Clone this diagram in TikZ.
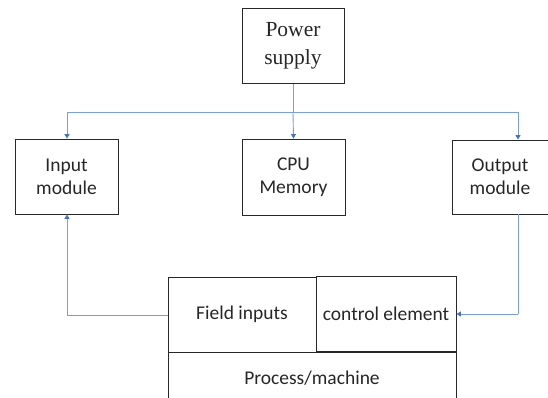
\documentclass[tikz,border=0pt]{standalone}
\usepackage{fontspec}
\setmainfont{Carlito}
\newfontfamily\serifpower{Liberation Serif}
\usetikzlibrary{arrows.meta}
\definecolor{linkblue}{RGB}{120,158,222}
\definecolor{tipblue}{RGB}{68,114,196}
\definecolor{boxline}{RGB}{40,40,40}
\tikzset{
  box/.style={draw=boxline, line width=0.9pt, rectangle, align=center, inner sep=0pt, font=\fontsize{19.5}{23}\selectfont, text=black!85},
  link/.style={draw=linkblue, line width=0.9pt, -{Triangle[width=5pt,length=4.5pt,color=tipblue]}},
  plain/.style={draw=linkblue, line width=0.9pt}
}
\begin{document}
\begin{tikzpicture}[x=1pt,y=-1pt]
\useasboundingbox (0,0) rectangle (548,398);
\clip (0,0) rectangle (548,398);
\node[box, minimum width=102pt, minimum height=75pt, font=\serifpower\fontsize{21.5}{28}\selectfont] (power) at (293,46) {Power\\supply};
\node[box, minimum width=103pt, minimum height=75pt] (input) at (66.5,176.5) {Input\\module};
\node[box, minimum width=103pt, minimum height=76pt] (cpu) at (293.5,177) {CPU\\Memory};
\node[box, minimum width=96pt, minimum height=74pt] (output) at (500,177) {Output\\module};
\node[box, minimum width=148pt, minimum height=75pt] (field) at (242,314.5) {Field inputs};
\node[box, minimum width=140pt, minimum height=75pt] (control) at (386,313.5) {control element};
\node[box, minimum width=288pt, minimum height=78pt, anchor=north] (process) at (312,352) {};
\node[font=\fontsize{19.5}{23}\selectfont, text=black!85] (proclabel) at (312,378) {Process/machine};
\coordinate (bus) at (293,112);
\coordinate (busL) at (67,112);
\coordinate (busR) at (518,112);
\coordinate (fieldL) at (67,315);
\coordinate (ctrlR) at (518,314);
\draw[plain] (power.south) -- (bus);
\draw[link] (bus) -- (cpu.north);
\draw[plain] (busL) -- (busR);
\draw[link] (busL) -- (input.north -| busL);
\draw[link] (busR) -- (output.north -| busR);
\draw[plain] (field.west |- fieldL) -- (fieldL);
\draw[link] (fieldL) -- (input.south -| fieldL);
\draw[plain] (output.south -| ctrlR) -- (ctrlR);
\draw[link] (ctrlR) -- (control.east |- ctrlR);
\end{tikzpicture}
\end{document}
